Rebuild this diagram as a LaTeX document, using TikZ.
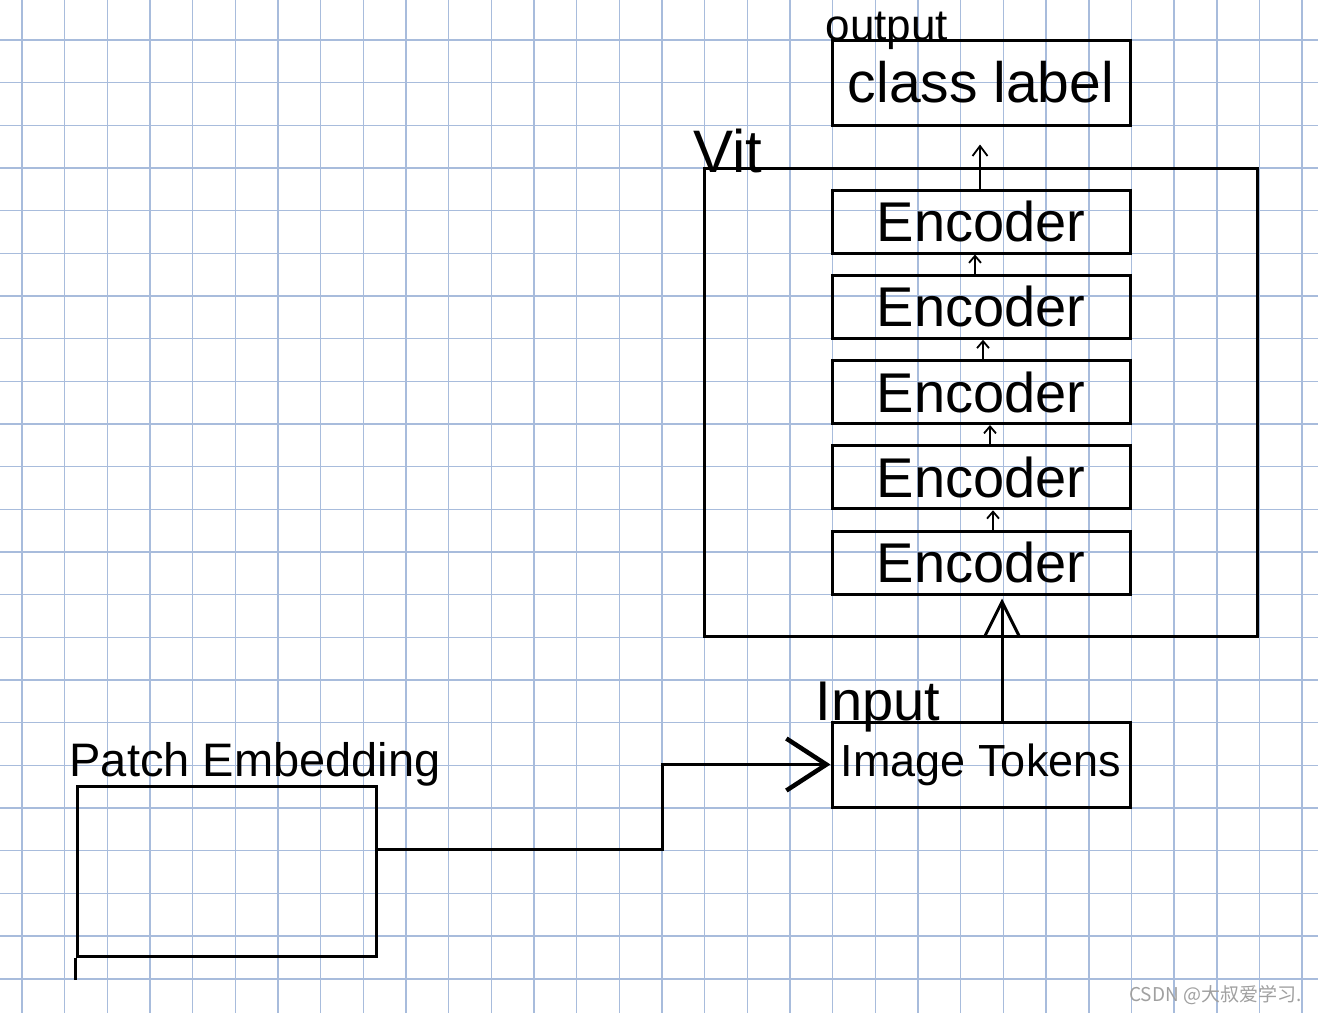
\documentclass[tikz,border=0pt]{standalone}
\usepackage{fontspec}
\setmainfont{Liberation Sans}
\newfontfamily\cjkfont{Noto Sans CJK SC}
\usetikzlibrary{arrows.meta,calc}

\definecolor{gridblue}{RGB}{168,188,220}
\definecolor{markgray}{RGB}{160,160,160}

\tikzset{
    gridline/.style={draw=gridblue, line width=1.5pt},
    box/.style={draw, line width=3pt, inner sep=0pt},
    encbox/.style={box, minimum width=298pt, minimum height=63pt, font=\fontsize{56}{56}\selectfont},
    flow/.style={line width=3pt},
    thinflow/.style={line width=1.8pt},
    bigtip/.style={-{Straight Barb[length=34pt, width=34pt]}},
    entrytip/.style={-{Straight Barb[length=40pt, width=52pt, line width=4.5pt]}},
    smalltip/.style={-{Straight Barb[length=7pt, width=12pt]}},
    midtip/.style={-{Straight Barb[length=10pt, width=15pt]}}
}

\begin{document}
\begin{tikzpicture}[x=1pt, y=-1pt]
    \useasboundingbox[fill=white] (0,0) rectangle (1318,1013);

    % squared paper
    \foreach \k in {0,...,30}
        \draw[gridline] ({22+42.67*\k},0) -- ({22+42.67*\k},1013);
    \foreach \k in {0,...,22}
        \draw[gridline] (0,{40+42.67*\k}) -- (1318,{40+42.67*\k});

    % output
    \node[box, minimum width=298pt, minimum height=85pt, font=\fontsize{57}{57}\selectfont] (cls) at (981,82.5) {class label};
    \node[anchor=base west, font=\fontsize{44}{44}\selectfont] (outlabel) at (822,40) {output};

    % Vit with its encoders
    \node[box, minimum width=553pt, minimum height=468pt] (vit) at (980.5,402) {};
    \node[anchor=base west, font=\fontsize{60}{60}\selectfont] (vitlabel) at (690,172) {Vit};

    \foreach \i in {1,...,5}
        \node[encbox] (enc\i) at (981,{562.5-85.25*(\i-1)}) {Encoder};

    \foreach \a/\b/\dx in {1/2/12,2/3/9,3/4/2,4/5/-6}
        \draw[thinflow, smalltip] ($(enc\a.north)+(\dx,0)$) -- ($(enc\b.south)+(\dx,0)$);

    \draw[thinflow, midtip] ($(enc5.north)+(-1,0)$) -- ($(cls.south)+(-1,18)$);

    % input
    \node[box, minimum width=298pt, minimum height=85pt, font=\fontsize{45}{45}\selectfont] (tok) at (981,764.5) {Image Tokens};
    \node[anchor=base west, font=\fontsize{56}{56}\selectfont] (inlabel) at (812,720) {Input};

    \draw[flow, bigtip] ($(tok.north)+(21,0)$) -- ($(enc1.south)+(21,3)$);

    % patch embedding
    \node[box, minimum width=299pt, minimum height=170pt] (patch) at (226.5,871) {};
    \node[anchor=base west, font=\fontsize{47}{47}\selectfont] (patchlabel) at (66,776) {Patch Embedding};
    \draw[flow] (patch.south west) -- ++(0,22);

    \draw[flow, entrytip] (patch.8) -- ++(285,0) |- (tok.west);

    % watermark
    \node[anchor=base east, text=markgray, font=\cjkfont\fontsize{19}{19}\selectfont] (mark) at (1305,1001) {CSDN @大叔爱学习.};
\end{tikzpicture}
\end{document}
